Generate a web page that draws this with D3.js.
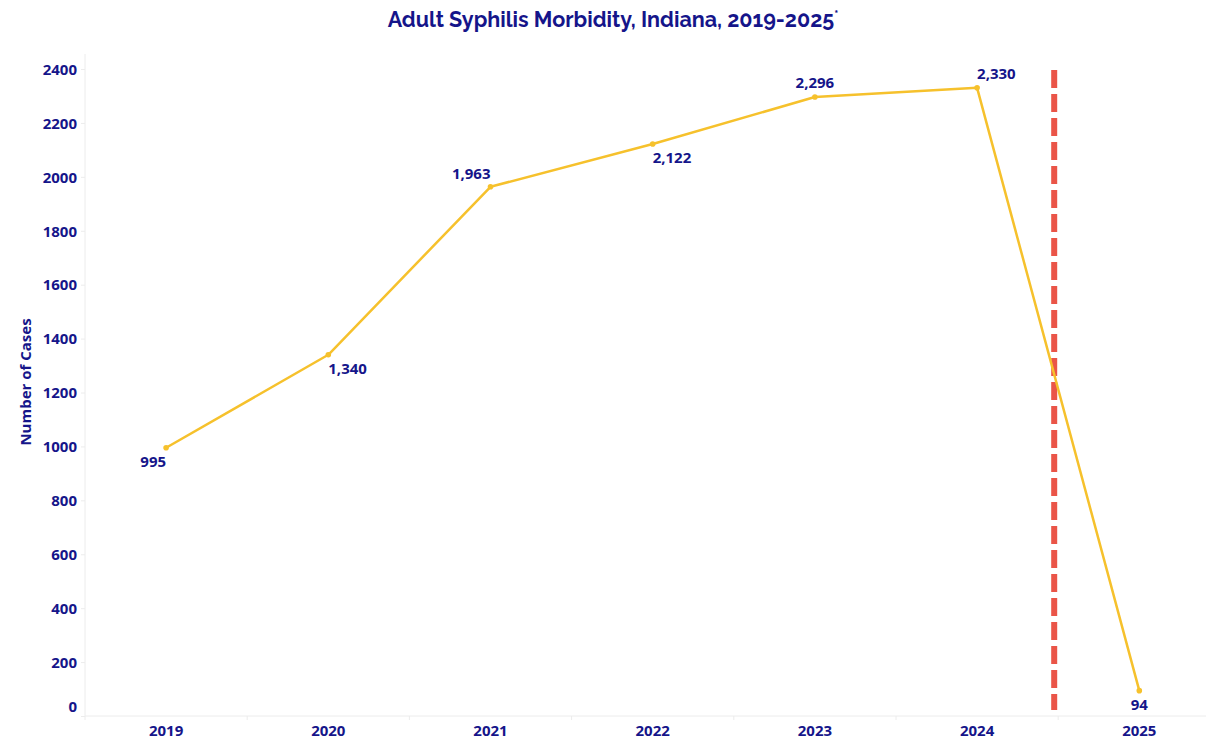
<!DOCTYPE html>
<html>
<head>
<meta charset="utf-8">
<script src="https://cdn.jsdelivr.net/npm/d3@7"></script>
<style>
  body { margin: 0; background: #fff; }
  text { font-family: "Open Sans", "Noto Sans", sans-serif; }
</style>
</head>
<body>
<div id="chart"></div>
<script>
// Chart data
const years = ["2019", "2020", "2021", "2022", "2023", "2024", "2025"];
const cases = [995, 1340, 1963, 2122, 2296, 2330, 94];
const labelPlacement = ["below-left", "below-right", "above-left", "below-right", "above", "above-right", "below"];
const yTicks = [0, 200, 400, 600, 800, 1000, 1200, 1400, 1600, 1800, 2000, 2200, 2400];
const partialYearAfter = "2024"; // dashed marker sits after this year

const width = 1206;
const height = 739;
const navy = "#15158a";

const svg = d3.select("#chart").append("svg").attr("width", width).attr("height", height);

// Scales: each year gets a band, line points sit in band centres
const x = d3.scaleBand().domain(years).range([85, 85 + 162.2 * years.length]).padding(0);
const y = d3.scaleLinear().domain([0, 2400]).range([716, 69]);
const cx = (d) => x(d) + x.bandwidth() / 2;

// Title
svg.append("text")
  .attr("x", 613)
  .attr("y", 27)
  .attr("text-anchor", "middle")
  .style("font-family", "Raleway, Lato, sans-serif")
  .style("font-size", "21.5px")
  .style("font-weight", "bold")
  .style("fill", navy)
  .text("Adult Syphilis Morbidity, Indiana, 2019-2025")
  .append("tspan")
  .attr("dy", -8)
  .style("font-size", "12px")
  .text("*");

// Axis lines
svg.append("line").attr("x1", 85).attr("x2", 85).attr("y1", 54).attr("y2", 716)
  .attr("stroke", "#ececec");
svg.append("line").attr("x1", 85).attr("x2", width).attr("y1", 716).attr("y2", 716)
  .attr("stroke", "#ececec");

// Y axis
const yAxis = svg.append("g")
  .attr("transform", "translate(85,0)")
  .call(d3.axisLeft(y).tickValues(yTicks).tickSize(4).tickPadding(4).tickFormat(d3.format("d")));
yAxis.select(".domain").remove();
yAxis.selectAll("line").attr("stroke", "#ececec");
yAxis.selectAll("text")
  .style("font-size", "15px")
  .style("font-weight", "bold")
  .style("fill", navy)
  .attr("dy", (d) => (d === 0 ? "-0.3em" : "0.35em")); // zero label lifted off the x axis

// X axis: boundary ticks between bands, labels centred in bands
const boundaries = years.map((d) => x(d)).concat([x(years[years.length - 1]) + x.bandwidth()]);
svg.selectAll(".xtick").data(boundaries).join("line")
  .attr("x1", (d) => d).attr("x2", (d) => d)
  .attr("y1", 716).attr("y2", 720)
  .attr("stroke", "#ececec");
svg.selectAll(".xlabel").data(years).join("text")
  .attr("x", cx)
  .attr("y", 736)
  .attr("text-anchor", "middle")
  .style("font-size", "15px")
  .style("font-weight", "bold")
  .style("fill", navy)
  .text((d) => d);

// Y axis title
svg.append("text")
  .attr("transform", "translate(31,382) rotate(-90)")
  .attr("text-anchor", "middle")
  .style("font-size", "15px")
  .style("font-weight", "bold")
  .style("fill", navy)
  .text("Number of Cases");

// Dashed marker for partial year
const markerX = x(partialYearAfter) + x.bandwidth() - 4;
svg.append("line")
  .attr("x1", markerX).attr("x2", markerX)
  .attr("y1", 70).attr("y2", 710)
  .attr("stroke", "#ea5548")
  .attr("stroke-width", 6)
  .attr("stroke-dasharray", "18,6");

// Line and points
const series = years.map((d, i) => ({ year: d, value: cases[i], place: labelPlacement[i] }));
const lineColor = "#f6c12c";

svg.append("path")
  .datum(series)
  .attr("fill", "none")
  .attr("stroke", lineColor)
  .attr("stroke-width", 2.5)
  .attr("stroke-linejoin", "round")
  .attr("d", d3.line().x((d) => cx(d.year)).y((d) => y(d.value)));

svg.selectAll(".pt").data(series).join("circle")
  .attr("cx", (d) => cx(d.year))
  .attr("cy", (d) => y(d.value))
  .attr("r", 2.8)
  .attr("fill", lineColor);

// Data labels
const placeOffsets = {
  "below-left": { dx: 0, dy: 19, anchor: "end" },
  "below-right": { dx: 0, dy: 19, anchor: "start" },
  "above-left": { dx: 0, dy: -8, anchor: "end" },
  "above-right": { dx: 0, dy: -9, anchor: "start" },
  "above": { dx: 0, dy: -9, anchor: "middle" },
  "below": { dx: 0, dy: 19, anchor: "middle" },
};
svg.selectAll(".lbl").data(series).join("text")
  .attr("x", (d) => cx(d.year) + placeOffsets[d.place].dx)
  .attr("y", (d) => y(d.value) + placeOffsets[d.place].dy)
  .attr("text-anchor", (d) => placeOffsets[d.place].anchor)
  .style("font-size", "15px")
  .style("font-weight", "bold")
  .style("fill", navy)
  .text((d) => d3.format(",")(d.value));
</script>
</body>
</html>
